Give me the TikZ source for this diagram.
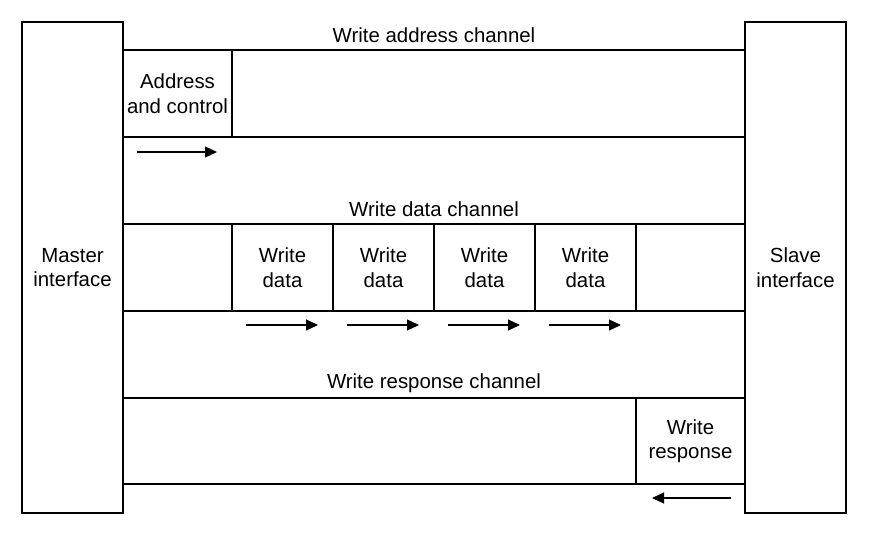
\documentclass[tikz,border=0pt]{standalone}
\usepackage{fontspec}
\setmainfont{Liberation Sans}
\usetikzlibrary{arrows.meta}

\begin{document}
\begin{tikzpicture}[x=1pt, y=-1pt,
    side/.style={draw, line width=1.1pt, minimum width=101pt, minimum height=491pt, inner sep=0pt, align=center, font=\fontsize{20.4}{24.5}\selectfont},
    chan/.style={draw, line width=1.1pt, minimum width=622pt, minimum height=87pt, inner sep=0pt},
    cell/.style={draw, line width=1.1pt, minimum width=101pt, minimum height=87pt, inner sep=0pt, align=center, font=\fontsize{20.4}{24.5}\selectfont},
    lbl/.style={inner sep=0pt, font=\fontsize{20.4}{24.5}\selectfont},
    flow/.style={-{Triangle[length=12pt, width=11pt]}, line width=1.1pt}]
  \useasboundingbox (0,0) rectangle (892,542);
  % interfaces
  \node[side] (master) at (72.5,267.5) {Master\\interface};
  \node[side] (slave) at (795.5,267.5) {Slave\\interface};
  % write address channel
  \node[lbl] (addrlbl) at (434,35.5) {Write address channel};
  \node[chan] (addr) at (434,93.5) {};
  \node[cell, minimum width=109pt] (addrctl) at (177.5,93.5) {Address\\and control};
  \coordinate (a1) at (137,152);
  \coordinate (a2) at (217,152);
  \draw[flow] (a1) -- (a2);
  % write data channel
  \node[lbl] (datalbl) at (434,209.5) {Write data channel};
  \node[chan] (data) at (434,267.5) {};
  \foreach \i/\x in {1/282.5, 2/383.5, 3/484.5, 4/585.5} {
    \node[cell] (wd\i) at (\x,267.5) {Write\\data};
    \coordinate (d\i s) at (\x-36.5,325);
    \coordinate (d\i e) at (\x+35.5,325);
    \draw[flow] (d\i s) -- (d\i e);
  }
  % write response channel
  \node[lbl] (resplbl) at (434,383) {Write response channel};
  \node[chan, minimum height=86pt] (resp) at (434,441) {};
  \node[cell, minimum width=109pt, minimum height=86pt] (wresp) at (690.5,441) {Write\\response};
  \coordinate (r1) at (731,498);
  \coordinate (r2) at (652,498);
  \draw[flow] (r1) -- (r2);
\end{tikzpicture}
\end{document}
